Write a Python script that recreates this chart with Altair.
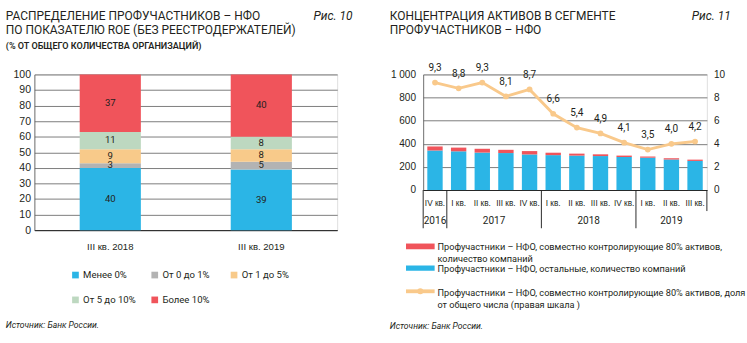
import altair as alt
import pandas as pd

FONT = "Roboto"
TXT = "#231f20"
GRID = "#555555"

# ---------------- Left panel data (Рис. 10) ----------------
periods_l = ["III кв. 2018", "III кв. 2019"]
roe_groups = ["Менее 0%", "От 0 до 1%", "От 1 до 5%", "От 5 до 10%", "Более 10%"]
roe_2018 = [40, 3, 9, 11, 37]
roe_2019 = [39, 5, 8, 8, 40]
roe_colors = ["#2BB5E6", "#B3B3B3", "#F8CA8A", "#BDD8C0", "#F0545B"]
roe_ticks = [0, 10, 20, 30, 40, 50, 60, 70, 80, 90, 100]

# ---------------- Right panel data (Рис. 11) ----------------
quarters = ["IV кв.", "I кв.", "II кв.", "III кв.", "IV кв.", "I кв.", "II кв.",
            "III кв.", "IV кв.", "I кв.", "II кв.", "III кв."]
q_years = ["2016", "2017", "2017", "2017", "2017", "2018", "2018", "2018", "2018",
           "2019", "2019", "2019"]
top80_counts = [35, 32, 33, 28, 29, 21, 17, 15, 12, 10, 11, 11]
other_counts = [342, 335, 324, 320, 308, 302, 298, 294, 286, 280, 265, 252]
top80_share = [9.3, 8.8, 9.3, 8.1, 8.7, 6.6, 5.4, 4.9, 4.1, 3.5, 4.0, 4.2]
count_ticks = [0, 200, 400, 600, 800, 1000]
share_ticks = [0, 2, 4, 6, 8, 10]
series_names = ["other", "top"]
series_colors = ["#2BB5E6", "#F0545B"]
ORANGE = "#F9C98B"

W1, H1 = 317, 163
W2, H2 = 297, 121


def txt(text, x, y, size=12, weight="normal", style="normal", align="left",
        color=TXT, line_height=None):
    kw = dict(text=text, align=align, baseline="middle", fontSize=size,
              fontWeight=weight, fontStyle=style, font=FONT, color=color)
    if line_height is not None:
        kw["lineHeight"] = line_height
    return alt.Chart(alt.Data(values=[{}])).mark_text(**kw).encode(
        x=alt.value(x), y=alt.value(y))


# ---------------- Left chart ----------------
rows = []
for p, vals in zip(periods_l, [roe_2018, roe_2019]):
    for k, (g, v) in enumerate(zip(roe_groups, vals)):
        rows.append({"period": p, "group": g, "value": v, "ord": k})
left_df = pd.DataFrame(rows)

lbase = alt.Chart(left_df).transform_stack(
    stack="value", groupby=["period"], sort=[alt.SortField("ord")], as_=["y0", "y1"]
).transform_calculate(mid="(datum.y0 + datum.y1) / 2")

xl_scale = alt.Scale(paddingInner=0.595, paddingOuter=0.3)
yl_scale = alt.Scale(domain=[0, 100], nice=False, zero=True)
xl_axis = alt.Axis(title=None, labelAngle=0, labelFontSize=10, labelColor=TXT,
                   labelPadding=12, ticks=False, domainColor="#222", grid=False)
yl_axis = alt.Axis(title=None, values=roe_ticks, labelFontSize=11,
                   labelColor=TXT, labelPadding=4, ticks=False, grid=True,
                   labelOverlap=False, labelFlush=False,
                   gridColor=GRID, gridWidth=0.8, domain=True, domainColor=GRID,
                   domainWidth=0.8)
bars_l = lbase.mark_bar().encode(
    x=alt.X("period:N", sort=periods_l, scale=xl_scale, axis=xl_axis),
    y=alt.Y("y0:Q", scale=yl_scale, axis=yl_axis),
    y2="y1:Q",
    color=alt.Color("group:N", scale=alt.Scale(domain=roe_groups, range=roe_colors),
                    legend=alt.Legend(title=None, orient="none", legendX=38, legendY=205,
                                      direction="horizontal", columns=3, symbolType="square",
                                      symbolSize=49, symbolStrokeWidth=0, labelFontSize=10,
                                      labelFont=FONT, labelColor=TXT, columnPadding=14,
                                      rowPadding=16, gridAlign="all", padding=0,
                                      labelOffset=3)),
)
vals_l = lbase.mark_text(fontSize=10, color=TXT, font=FONT).encode(
    x=alt.X("period:N", sort=periods_l, scale=xl_scale, axis=xl_axis),
    y=alt.Y("mid:Q", scale=yl_scale, axis=yl_axis),
    text=alt.Text("value:Q"),
)

left = alt.layer(
    bars_l, vals_l,
    txt("РАСПРЕДЕЛЕНИЕ ПРОФУЧАСТНИКОВ – НФО", -30, -61, size=12.5),
    txt("ПО ПОКАЗАТЕЛЮ ROE (БЕЗ РЕЕСТРОДЕРЖАТЕЛЕЙ)", -30, -46.5, size=12.5),
    txt("(% ОТ ОБЩЕГО КОЛИЧЕСТВА ОРГАНИЗАЦИЙ)", -30, -29.5, size=9.5, weight=600),
    txt("Рис. 10", 333, -61, size=12.5, style="italic", align="right"),
    txt("Источник: Банк России.", -30, 262, size=9, style="italic"),
).properties(width=W1, height=H1)

# ---------------- Right chart ----------------
keys = [f"{q}|{y}" for q, y in zip(quarters, q_years)]
rrows = []
for i, k in enumerate(keys):
    rrows.append({"key": k, "series": "other", "count": other_counts[i], "ord": 0})
    rrows.append({"key": k, "series": "top", "count": top80_counts[i], "ord": 1})
rdf = pd.DataFrame(rrows)

xr_scale = alt.Scale(paddingInner=0.35, paddingOuter=0.175)
bars_r = alt.Chart(rdf).mark_bar().encode(
    x=alt.X("key:N", sort=keys, scale=xr_scale,
            axis=alt.Axis(title=None, labelAngle=0, labelExpr="split(datum.label, '|')[0]",
                          labelFontSize=8.6, labelColor=TXT, labelPadding=9, ticks=False,
                          labelOverlap=False, domainColor="#222", grid=False)),
    y=alt.Y("count:Q", stack="zero", scale=alt.Scale(domain=[0, 1000]),
            axis=alt.Axis(title=None, values=count_ticks,
                          labelExpr="replace(format(datum.value, ','), ',', ' ')",
                          labelFontSize=10.5, labelColor=TXT, labelPadding=8, ticks=False,
                          labelOverlap=False, labelFlush=False,
                          grid=True, gridColor=GRID, gridWidth=0.8, domain=True,
                          domainColor=GRID, domainWidth=0.8)),
    color=alt.Color("series:N", scale=alt.Scale(domain=series_names, range=series_colors),
                    legend=None),
    order=alt.Order("ord:Q"),
)

share_axis = alt.Axis(orient="right", title=None, values=share_ticks, grid=False,
                      domain=False, ticks=False, labelPadding=7, labelFontSize=10.5,
                      labelOverlap=False, labelFlush=False, labelColor=TXT)
ldf = pd.DataFrame({"key": keys, "share": top80_share})
lb = alt.Chart(ldf).encode(
    x=alt.X("key:N", sort=keys, scale=xr_scale, axis=None),
    y=alt.Y("share:Q", scale=alt.Scale(domain=[0, 10]), axis=share_axis),
)
line = lb.mark_line(color=ORANGE, strokeWidth=3,
                    point=alt.OverlayMarkDef(filled=True, size=36, color=ORANGE))
line_lbl = lb.mark_text(dy=-15, fontSize=10.5, color=TXT, font=FONT).transform_calculate(
    lab="replace(format(datum.share, '.1f'), '.', ',')").encode(text="lab:N")
line_group = alt.layer(line, line_lbl)

# year groups derived from the quarter years
ystart, yend, ylist = [], [], []
for i, y in enumerate(q_years):
    if not ylist or ylist[-1] != y:
        ylist.append(y)
        ystart.append(i)
        yend.append(i + 1)
    else:
        yend[-1] = i + 1
ydf = pd.DataFrame({"year": ylist, "start": ystart, "end": yend})
n_q = len(keys)
idx_scale = alt.Scale(domain=[0, n_q])
ytxt = alt.Chart(ydf).transform_calculate(mid="(datum.start + datum.end) / 2").mark_text(
    fontSize=10.5, color=TXT, font=FONT).encode(
    x=alt.X("mid:Q", scale=idx_scale, axis=None), y=alt.value(H2 + 33), text="year:N")
seps = alt.Chart(ydf).mark_rule(color="#222", strokeWidth=1).encode(
    x=alt.X("start:Q", scale=idx_scale, axis=None), y=alt.value(H2), y2=alt.value(H2 + 40))
end_tick = alt.Chart(ydf).transform_filter(f"datum.end == {n_q}").mark_rule(
    color="#222", strokeWidth=1).encode(
    x=alt.X("end:Q", scale=idx_scale, axis=None), y=alt.value(H2), y2=alt.value(H2 + 22))
year_group = alt.layer(ytxt, seps, end_tick)

leg_red = alt.Chart(alt.Data(values=[{}])).mark_rect(color=series_colors[1]).encode(
    x=alt.value(-18), x2=alt.value(12), y=alt.value(177), y2=alt.value(183))
leg_blue = alt.Chart(alt.Data(values=[{}])).mark_rect(color=series_colors[0]).encode(
    x=alt.value(-18), x2=alt.value(12), y=alt.value(200), y2=alt.value(205.5))
leg_line = alt.Chart(alt.Data(values=[{}])).mark_rule(color=ORANGE, strokeWidth=4).encode(
    x=alt.value(-18), x2=alt.value(12), y=alt.value(227))
leg_pt = alt.Chart(alt.Data(values=[{}])).mark_point(
    color=ORANGE, filled=True, size=40, opacity=1).encode(x=alt.value(-3), y=alt.value(227))

right = alt.layer(
    bars_r, line_group, year_group,
    leg_red, leg_blue, leg_line, leg_pt,
    txt(["Профучастники – НФО, совместно контролирующие 80% активов,",
         "количество компаний"], 15, 180.5, size=9.6, line_height=12.5),
    txt("Профучастники – НФО, остальные, количество компаний", 15, 204, size=9.6),
    txt(["Профучастники – НФО, совместно контролирующие 80% активов, доля",
         "от общего числа (правая шкала )"], 15, 228.5, size=9.6, line_height=13.5),
    txt("КОНЦЕНТРАЦИЯ АКТИВОВ В СЕГМЕНТЕ", -35, -61, size=12.5),
    txt("ПРОФУЧАСТНИКОВ – НФО", -35, -46.5, size=12.5),
    txt("Рис. 11", 322, -61, size=12.5, style="italic", align="right"),
    txt("Источник: Банк России.", -35, 263, size=9, style="italic"),
).resolve_scale(x="independent", y="independent").properties(width=W2, height=H2)

chart = alt.hconcat(left, right, spacing=37).resolve_scale(color="independent").properties(
    padding={"left": 5, "top": 2, "right": 0, "bottom": 0}
).configure_view(stroke=None).configure_axis(labelFont=FONT).configure(background="white")

chart.save("out.html", embed_options={"renderer": "svg", "actions": False})
